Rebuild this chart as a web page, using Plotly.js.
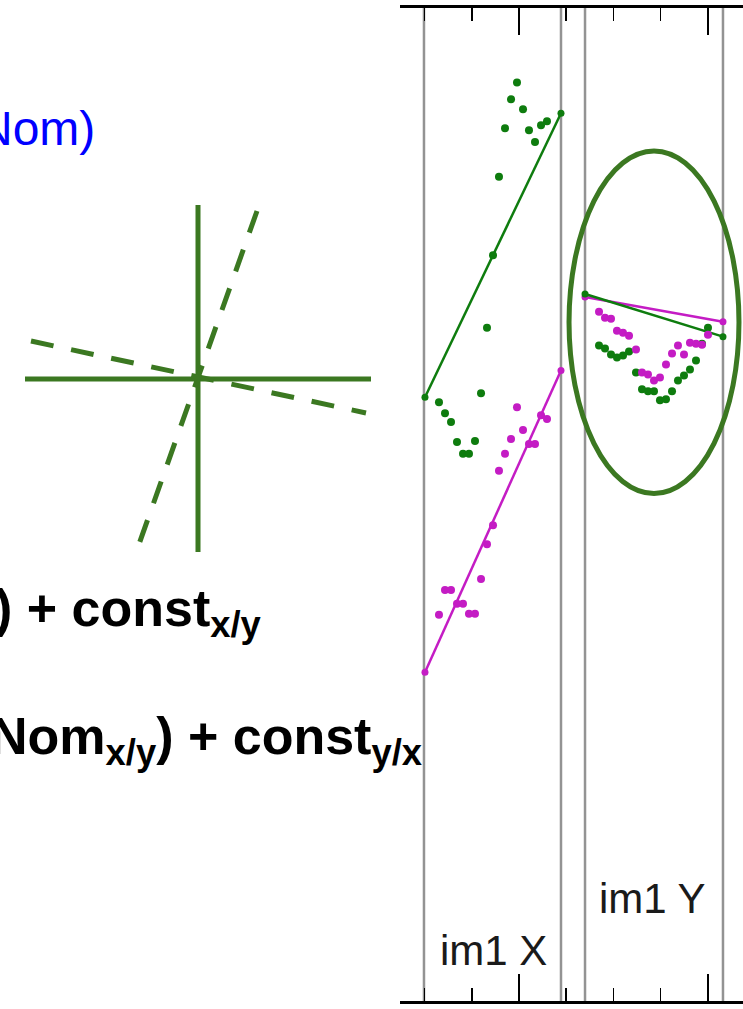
<!DOCTYPE html>
<html>
<head>
<meta charset="utf-8">
<script src="https://cdn.plot.ly/plotly-3.0.1.min.js"></script>
<style>
  html, body { margin: 0; padding: 0; background: #ffffff; }
  #chart { width: 743px; height: 1009px; }
</style>
</head>
<body>
<div id="chart"></div>
<script>
// ---- im1 X scan: sample positions and measured offsets ----
const posX = [-13.55, -12.53, -11.51, -10.50, -9.48, -8.47, -7.45, -6.43, -5.42, -4.40,
              -3.39, -2.37, -1.35, -0.34, 0.68, 1.69, 2.71, 3.73, 4.74];
const greenX = [60.3, 59.2, 58.3, 56.3, 55.1, 55.1, 56.4, 61.2, 67.8, 75.1,
                83.0, 87.9, 90.8, 92.5, 89.8, 87.7, 86.5, 88.2, 88.6];
const magentaX = [38.9, 41.4, 41.4, 40.0, 40.0, 39.0, 39.0, 42.5, 46.0, 47.9,
                  53.4, 55.1, 56.6, 59.8, 57.5, 56.1, 56.1, 59.0, 58.6];
const fitPosX = [-15.92, 7.11];
const greenFitX = [60.8, 89.4];
const magentaFitX = [33.1, 63.5];

// ---- im1 Y scan ----
const posY = [13.55, 14.56, 15.58, 16.59, 17.61, 18.63, 19.81, 20.83, 21.84, 22.86,
              23.87, 24.89, 25.91, 26.92, 27.94, 28.95, 29.97, 30.99, 32.00];
const greenY = [66.0, 65.7, 65.1, 64.8, 65.0, 65.4, 63.3, 61.6, 61.4, 61.4,
                60.5, 60.6, 61.4, 62.5, 63.0, 63.6, 64.5, 66.2, 67.8];
const magentaY = [69.4, 68.8, 68.7, 67.5, 67.3, 67.0, 65.6, 63.3, 63.1, 62.5,
                  62.8, 64.1, 65.2, 66.0, 65.1, 66.3, 66.2, 66.1, 67.1];
const fitPosY = [11.18, 34.54];
const greenFitY = [71.2, 66.9];
const magentaFitY = [70.9, 68.4];

// panel borders and labels
const panelEdges = [-16.09, 7.11, 11.18, 34.54];
const panelLabels = ['im1 X', 'im1 Y'];

// highlighted region around the im1 Y fits
const ringX = [8.47, 37.25];
const ringY = [51.1, 85.6];

// ---- schematic: nominal axes (solid) and rotated axes (dashed) ----
const axisH = { x: [-173, 173], y: [0, 0] };
const axisV = { x: [0, 0], y: [174, -173] };
const rotSteep = { x: [59, -60], y: [168, -168] };
const rotShallow = { x: [-167, 168], y: [38, -34] };

const GREEN = '#0e7c0e';
const MAGENTA = '#c41cc4';
const SCHEME = 'rgb(59,120,33)';

const traces = [];

function scatter(x, y, color) {
  return { x: x, y: y, type: 'scatter', mode: 'markers', xaxis: 'x', yaxis: 'y',
           marker: { color: color, size: 8 }, hoverinfo: 'skip' };
}
function fit(x, y, color) {
  return { x: x, y: y, type: 'scatter', mode: 'lines+markers', xaxis: 'x', yaxis: 'y',
           line: { color: color, width: 2.5 }, marker: { color: color, size: 7 }, hoverinfo: 'skip' };
}
function schemeLine(seg, dash) {
  return { x: seg.x, y: seg.y, type: 'scatter', mode: 'lines', xaxis: 'x2', yaxis: 'y2',
           line: { color: SCHEME, width: 5, dash: dash }, hoverinfo: 'skip' };
}

traces.push(fit(fitPosX, greenFitX, GREEN));
traces.push(fit(fitPosX, magentaFitX, MAGENTA));
traces.push(scatter(posX, greenX, GREEN));
traces.push(scatter(posX, magentaX, MAGENTA));
traces.push(fit(fitPosY, magentaFitY, MAGENTA));
traces.push(fit(fitPosY, greenFitY, GREEN));
traces.push(scatter(posY, greenY, GREEN));
traces.push(scatter(posY, magentaY, MAGENTA));

traces.push(schemeLine(axisH, 'solid'));
traces.push(schemeLine(axisV, 'solid'));
traces.push(schemeLine(rotSteep, '23px,18px'));
traces.push(schemeLine(rotShallow, '23px,18px'));

const shapes = panelEdges.map(function (e) {
  return { type: 'line', xref: 'x', yref: 'y', x0: e, x1: e, y0: 0, y1: 100,
           line: { color: '#939393', width: 2.5 }, layer: 'below' };
});
shapes.push({ type: 'circle', xref: 'x', yref: 'y', x0: ringX[0], x1: ringX[1], y0: ringY[0], y1: ringY[1],
              line: { color: SCHEME, width: 5 } });

const W = 743, H = 1009;
const px = function (v) { return v / W; };
const py = function (v) { return 1 - v / H; };

const sans = 'Liberation Sans, Arial, Helvetica, sans-serif';

const annotations = [
  { text: 'Nom)', xref: 'paper', yref: 'paper', x: px(97), y: py(128), xanchor: 'right', yanchor: 'middle',
    showarrow: false, font: { family: sans, size: 48, color: '#0000ff' } },
  { text: '<b>) + const<sub>x/y</sub></b>', xref: 'paper', yref: 'paper', x: px(264), y: py(612),
    xanchor: 'right', yanchor: 'middle', showarrow: false, font: { family: sans, size: 52, color: '#000000' } },
  { text: '<b>Nom<sub>x/y</sub>) + const<sub>y/x</sub></b>', xref: 'paper', yref: 'paper', x: px(424), y: py(740),
    xanchor: 'right', yanchor: 'middle', showarrow: false, font: { family: sans, size: 52, color: '#000000' } },
  { text: panelLabels[0], xref: 'paper', yref: 'paper', x: px(493), y: py(950), xanchor: 'center', yanchor: 'middle',
    showarrow: false, font: { family: sans, size: 42, color: '#1a1a1a' } },
  { text: panelLabels[1], xref: 'paper', yref: 'paper', x: px(652), y: py(898), xanchor: 'center', yanchor: 'middle',
    showarrow: false, font: { family: sans, size: 42, color: '#1a1a1a' } }
];

const layout = {
  width: W, height: H,
  margin: { l: 0, r: 0, t: 0, b: 0, pad: 0 },
  paper_bgcolor: '#ffffff', plot_bgcolor: 'rgba(0,0,0,0)',
  showlegend: false,
  xaxis: {
    domain: [400 / W, 1], range: [-20.15, 37.93], anchor: 'y',
    showline: true, linecolor: '#000000', linewidth: 3, mirror: 'ticks',
    ticks: 'inside', ticklen: 27, tickwidth: 1.5, tickcolor: '#000000',
    tick0: 0, dtick: 32, showticklabels: false, showgrid: false, zeroline: false,
    minor: { ticks: 'inside', ticklen: 13, tickwidth: 1.5, tickcolor: '#000000', tick0: 0, dtick: 8, showgrid: false }
  },
  yaxis: {
    domain: [8 / H, 1 - 8 / H], range: [0, 100], anchor: 'x',
    showline: false, ticks: '', showticklabels: false, showgrid: false, zeroline: false
  },
  xaxis2: { domain: [0, 400 / W], range: [-198, 202], anchor: 'y2', visible: false },
  yaxis2: { domain: [0, 1], range: [-630, 379], anchor: 'x2', visible: false },
  shapes: shapes,
  annotations: annotations
};

Plotly.newPlot('chart', traces, layout, { staticPlot: true, displayModeBar: false });
</script>
</body>
</html>
